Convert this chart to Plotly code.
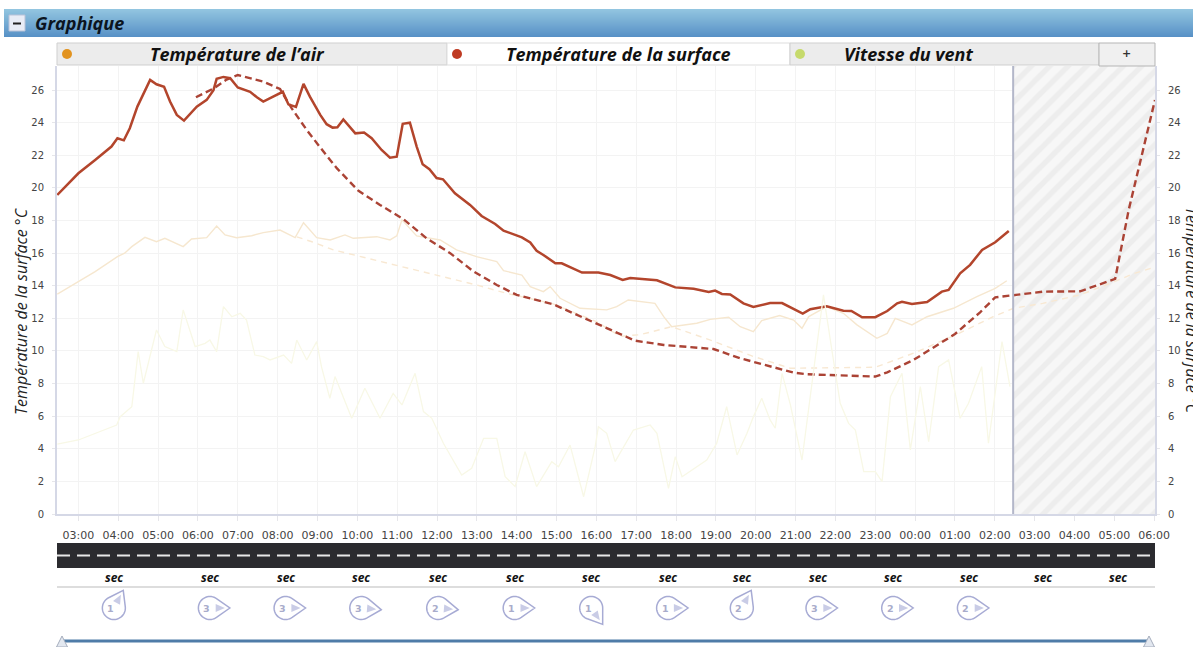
import math
import plotly.graph_objects as go

W, H = 1193, 647
PL, PR, PT, PB = 57, 1155, 66, 514

hour_labels = ["03:00","04:00","05:00","06:00","07:00","08:00","09:00","10:00","11:00","12:00","13:00","14:00","15:00","16:00",
               "17:00","18:00","19:00","20:00","21:00","22:00","23:00","00:00","01:00","02:00","03:00","04:00","05:00","06:00"]
temp_ticks = [0,2,4,6,8,10,12,14,16,18,20,22,24,26]

surface_h = [-.53,0,.42,.83,.98,1.14,1.29,1.48,1.80,1.96,2.15,2.3,2.47,2.65,2.97,3.22,3.39,3.47,3.64,3.81,4.0,4.31,4.48,4.64,4.85,5.13,5.27,5.46,5.65,5.81,6.07,6.23,6.38,6.5,6.65,6.95,7.17,7.36,7.61,7.82,7.99,8.14,8.32,8.49,8.64,8.81,8.99,9.15,9.45,9.83,10.12,10.46,10.67,11.13,11.34,11.5,11.67,11.97,12.13,12.64,13.05,13.35,13.66,13.85,14.52,14.98,15.44,15.82,15.98,16.15,16.36,16.69,16.94,17.36,17.66,18.18,18.37,18.78,19.2,19.4,19.67,20.0,20.3,20.55,20.67,20.92,21.3,21.67,21.84,22.13,22.38,22.68,23.01,23.35]
surface_t = [19.57,20.9,21.72,22.54,23.05,22.92,23.66,24.99,26.63,26.36,26.2,25.3,24.48,24.13,24.99,25.4,26.0,26.69,26.81,26.73,26.16,25.9,25.56,25.3,25.56,25.9,25.13,24.97,26.38,25.6,24.48,23.91,23.7,23.72,24.2,23.35,23.4,23.05,22.33,21.86,21.92,23.93,24.0,22.54,21.45,21.15,20.61,20.53,19.67,18.96,18.28,17.79,17.38,16.97,16.65,16.15,15.89,15.38,15.38,14.81,14.81,14.66,14.36,14.48,14.34,13.9,13.82,13.62,13.7,13.5,13.46,12.92,12.7,12.94,12.94,12.29,12.56,12.74,12.47,12.45,12.07,12.07,12.45,12.92,13.02,12.88,13.0,13.64,13.74,14.76,15.28,16.2,16.67,17.36]
surface_fc_h = [2.95,3.39,3.72,4.0,4.64,5.06,5.35,5.73,6.15,6.49,7.03,7.57,8.16,8.74,9.33,9.92,10.5,11.0,11.92,12.43,13.26,13.97,14.69,15.94,16.61,17.45,17.95,18.28,18.87,20.0,20.3,20.96,22.0,22.63,23.01,23.47,24.22,25.14,26.02,26.36,27.02]
surface_fc_t = [25.56,26.1,26.65,26.93,26.52,26.07,24.89,23.56,22.23,21.2,19.82,18.96,18.08,16.91,16.0,14.87,14.05,13.44,12.86,12.31,11.39,10.63,10.37,10.12,9.55,9.0,8.67,8.57,8.51,8.43,8.69,9.45,11.04,12.37,13.29,13.41,13.64,13.66,14.42,18.65,25.4]

air_h = [-.53,0,.42,.98,1.16,1.34,1.67,1.96,2.17,2.63,2.84,3.22,3.47,3.68,3.97,4.35,4.64,5.06,5.44,5.65,5.98,6.32,6.69,6.9,7.49,7.82,7.99,8.12,8.49,9.08,9.49,9.99,10.5,10.67,11.13,11.34,11.67,11.84,12.09,12.59,13.26,13.51,13.8,14.47,14.69,14.89,15.52,15.86,16.32,16.61,16.94,17.15,17.6,17.95,18.16,18.33,18.78,19.2,19.54,20.04,20.3,20.5,20.92,21.3,21.96,22.55,23.01,23.3]
air_t = [13.48,14.25,14.87,15.79,16.0,16.4,16.97,16.7,16.91,16.4,16.87,16.95,17.67,17.12,16.95,17.07,17.26,17.42,16.95,17.87,16.95,16.81,17.12,16.91,17.01,16.81,17.06,18.04,17.06,16.81,16.2,15.79,15.48,14.93,14.66,13.95,13.64,13.95,13.23,12.62,12.52,12.72,13.13,12.92,12.11,11.49,11.7,11.94,12.07,11.49,11.19,11.86,12.17,11.9,11.39,12.11,12.72,12.31,11.6,10.78,11.08,12.0,11.6,12.1,12.62,13.33,13.84,14.31]
air_fc_h = [5.48,5.86,6.4,6.82,7.99,8.99,9.99,10.74,11.9,13.0,13.6,14.1,14.89,15.86,16.9,17.87,19.0,20.0,21.0,22.1,22.96,23.47,24.2,25.14,26.0,26.5,27.02]
air_fc_t = [17.0,16.7,16.2,15.95,15.28,14.66,14.05,13.54,12.9,11.8,10.9,11.0,11.49,10.67,9.7,8.94,8.98,9.0,9.9,11.08,12.1,12.62,12.92,13.44,14.25,14.76,15.15]

wind_h = [-.53,0,.96,1.05,1.34,1.5,1.63,1.96,2.17,2.47,2.63,2.93,3.18,3.3,3.47,3.64,3.85,4.06,4.22,4.43,4.64,4.81,5.15,5.35,5.48,5.73,5.98,6.1,6.31,6.44,6.86,7.19,7.57,7.9,8.12,8.45,8.66,8.87,9.16,9.62,9.87,10.17,10.5,10.71,10.96,11.21,11.5,11.88,12.05,12.34,12.68,12.97,13.05,13.26,13.47,13.93,14.35,14.52,14.81,14.98,15.15,15.77,16.02,16.27,16.53,16.78,16.94,17.15,17.36,17.49,17.66,17.87,18.16,18.41,18.7,18.91,19.12,19.33,19.5,19.71,20.0,20.17,20.38,20.67,20.88,21.13,21.34,21.59,21.84,22.13,22.34,22.67,22.84,23.18,23.38]
wind_v = [4.29,4.54,5.46,5.97,6.58,9.96,8.02,11.29,10.27,9.96,12.52,10.27,10.47,10.67,9.96,12.72,12.1,12.31,11.9,9.75,9.65,9.45,9.75,9.24,10.67,9.45,10.57,9.04,7.1,8.43,5.87,7.71,5.87,7.4,6.69,8.63,6.28,5.87,4.34,2.39,2.8,4.64,4.64,2.29,1.68,3.82,1.68,3.21,2.9,4.23,1.06,4.13,5.36,4.95,3.21,5.15,5.46,4.95,1.57,3.52,2.29,3.31,4.34,6.58,3.62,4.95,5.97,7.1,5.77,5.26,8.63,6.69,3.31,8.02,13.44,10.06,6.79,5.56,5.15,2.6,2.6,1.98,7.2,8.63,3.93,7.81,4.44,9.04,9.45,5.87,6.79,9.04,4.34,10.57,7.81]

now_hour = 23.46
x_min, x_max = -0.537, 27.02
y_min, y_max = 0, 27.48

sec_hours = [.89,3.3,5.2,7.1,9.03,10.95,12.87,14.8,16.65,18.55,20.45,22.35,24.2,26.1]
sec_label = "sec"
drop_hours = [.89,3.3,5.2,7.1,9.03,10.95,12.87,14.8,16.65,18.55,20.45,22.35]
drop_force = ["1","3","3","3","2","1","1","1","2","3","2","2"]
drop_angle = [-62,0,0,5,5,0,55,0,-62,0,0,0]
tabs = ["Température de l’air","Température de la surface","Vitesse du vent"]
axis_title = "Température de la surface °C"

FONT = "DejaVu Sans"
TITLE = "Open Sans"
def fx(p): return p / W
def fy(p): return 1 - p / H
def h2px(h): return PL + (h - x_min) / (x_max - x_min) * (PR - PL)

fig = go.Figure()
fig.add_trace(go.Bar(x=[(now_hour + x_max) / 2], y=[y_max], width=[x_max - now_hour], hoverinfo="skip", showlegend=False,
                     marker=dict(color="#f7f7f7", line_width=0,
                                 pattern=dict(shape="/", fgcolor="#e3e3e3", bgcolor="#f7f7f7", size=13, solidity=0.42))))
def line(x, y, color, width, dash="solid", axis="y"):
    fig.add_trace(go.Scatter(x=x, y=y, mode="lines", yaxis=axis, showlegend=False, hoverinfo="skip",
                             line=dict(color=color, width=width, dash=dash)))
line(wind_h, wind_v, "#f8f8e6", 1.3, axis="y2")
line(air_fc_h, air_fc_t, "#f8e8d2", 1.4, "6px,5px")
line(air_h, air_t, "#f6e7cf", 1.4)
line(surface_fc_h, surface_fc_t, "#ab4335", 2.4, "7px,4px")
line(surface_h, surface_t, "#b3452c", 2.5)

shapes, annos = [], []
def rect(x0, y0, x1, y1, fill, lc=None, lw=1):
    shapes.append(dict(type="rect", xref="paper", yref="paper", x0=fx(x0), x1=fx(x1), y0=fy(y0), y1=fy(y1),
                       fillcolor=fill, line=dict(color=lc or fill, width=lw if lc else 0)))
def text(x, y, s, size, color="#111", font=FONT, bold=False, italic=False, anchor="center", angle=0):
    annos.append(dict(xref="paper", yref="paper", x=fx(x), y=fy(y), text=s, showarrow=False, xanchor=anchor, yanchor="middle",
                      textangle=angle, font=dict(family=font, size=size, color=color, weight="bold" if bold else "normal",
                                                 style="italic" if italic else "normal")))

# header band, graded from light to deep blue
top, bot = (146, 197, 224), (88, 145, 198)
for i in range(28):
    t = i / 27
    c = "rgb(%d,%d,%d)" % tuple(round(a + (b - a) * t) for a, b in zip(top, bot))
    rect(4, 9 + i, W, 10 + i, c)
rect(9, 15, 25, 31, "#e8ecf6", "#b8c2d8", 1)
rect(13, 22.5, 21, 24.5, "#222")
text(33, 23, "Graphique", 18, "#0b1420", TITLE, True, True, "left")

# tabs
rect(57, 43, 447, 65, "#ececec", "#cfcfcf", 1)
rect(447, 43, 790, 65, "#ffffff", "#dddddd", 1)
rect(790, 43, 1099, 65, "#ececec", "#cfcfcf", 1)
rect(1099, 43, 1155, 66, "#f0f0f0", "#b5b5b5", 1)
for cx, col in [(67, "#e2931f"), (457, "#bf3b23"), (800, "#c6da6c")]:
    shapes.append(dict(type="circle", xref="paper", yref="paper", x0=fx(cx - 5), x1=fx(cx + 5), y0=fy(59), y1=fy(49),
                       fillcolor=col, line_width=0))
for cx, s in zip([237, 618, 908], tabs):
    text(cx, 54, s, 18, "#111", TITLE, True, True)
text(1126, 53, "+", 11, "#333", FONT, True)

# axis titles
text(21, 311, axis_title, 16, "#222", TITLE, False, True, angle=-90)
text(1192, 311, axis_title, 16, "#222", TITLE, False, True, angle=90)

# road
rect(57, 543, 1155, 568, "#2b2b2f")
shapes.append(dict(type="line", xref="paper", yref="paper", x0=fx(57), x1=fx(1155), y0=fy(555.5), y1=fy(555.5),
                   line=dict(color="#e8e8e8", width=2, dash="13px,7px")))
shapes.append(dict(type="line", xref="paper", yref="paper", x0=fx(57), x1=fx(1155), y0=fy(587), y1=fy(587),
                   line=dict(color="#d2d2d2", width=1.5)))
for h in sec_hours:
    annos.append(dict(xref="x", yref="paper", x=h, y=fy(577), text=sec_label, showarrow=False, yanchor="middle",
                      font=dict(family=TITLE, size=12, color="#111", weight="bold", style="italic")))

# wind droplets
DC = "#a7abd4"
for h, f, a in zip(drop_hours, drop_force, drop_angle):
    cx, cy, r, tip = h2px(h), 608, 11.5, 20
    ang = math.radians(a)
    off = math.acos(r / tip)
    t = (cx + tip * math.cos(ang), cy + tip * math.sin(ang))
    n1 = (cx + 7 * math.cos(ang - .6), cy + 7 * math.sin(ang - .6))
    n2 = (cx + 7 * math.cos(ang + .6), cy + 7 * math.sin(ang + .6))
    steps = []
    for k in range(37):
        th = ang + off + (2 * math.pi - 2 * off) * k / 36
        steps.append(f"{fx(cx + r * math.cos(th))} {fy(cy + r * math.sin(th))}")
    path = f"M {fx(t[0])} {fy(t[1])} L " + " L ".join(steps) + " Z"
    shapes.append(dict(type="path", xref="paper", yref="paper", path=path, line=dict(color=DC, width=1.5), fillcolor="rgba(255,255,255,0)"))
    inner = f"M {fx(n1[0])} {fy(n1[1])} L {fx(cx + 15 * math.cos(ang))} {fy(cy + 15 * math.sin(ang))} L {fx(n2[0])} {fy(n2[1])} Z"
    shapes.append(dict(type="path", xref="paper", yref="paper", path=inner, line_width=0, fillcolor="#c9cce6"))
    text(cx - 3, cy, f, 9.5, "#a9accb", FONT, True)

# range slider bar
shapes.append(dict(type="line", xref="paper", yref="paper", x0=fx(62), x1=fx(1149), y0=fy(641), y1=fy(641),
                   line=dict(color="#4f7ca8", width=3)))
for cx in (62, 1149):
    path = f"M {fx(cx - 5.5)} {fy(647)} L {fx(cx)} {fy(636)} L {fx(cx + 5.5)} {fy(647)} Z"
    shapes.append(dict(type="path", xref="paper", yref="paper", path=path, fillcolor="#e3e8f0", line=dict(color="#a5adbd", width=1)))
# now marker
shapes.append(dict(type="line", xref="x", yref="y", x0=now_hour, x1=now_hour, y0=y_min, y1=y_max, line=dict(color="#b3b7c9", width=2)))

tick_font = dict(family=FONT, size=10, color="#444")
fig.update_layout(
    width=W, height=H, autosize=False, margin=dict(l=0, r=0, t=0, b=0, autoexpand=False), paper_bgcolor="white", plot_bgcolor="white",
    showlegend=False, shapes=shapes, annotations=annos, bargap=0,
    xaxis=dict(domain=[fx(PL), fx(PR)], range=[x_min, x_max], tickmode="array", tickvals=list(range(len(hour_labels))), ticktext=hour_labels,
               tickangle=0, showgrid=True, gridcolor="#f3f3f3", gridwidth=1.2, zeroline=False, showline=True, linecolor="#d5d8e6", linewidth=2,
               ticks="outside", ticklen=5, tickcolor="#e6e6ea", tickfont=dict(family=FONT, size=11, color="#444"), ticklabelstandoff=5),
    yaxis=dict(domain=[fy(PB), fy(PT)], range=[y_min, y_max], tickmode="array", tickvals=temp_ticks, showgrid=True, gridcolor="#f3f3f3", gridwidth=1.2,
               zeroline=False, showline=True, linecolor="#d5d8e6", linewidth=2, ticks="outside", ticklen=3, tickcolor="#e6e6ea",
               tickfont=tick_font, ticklabelstandoff=6),
    yaxis2=dict(domain=[fy(PB), fy(PT)], range=[y_min, y_max], overlaying="y", side="right", tickmode="array", tickvals=temp_ticks, showgrid=False,
                zeroline=False, showline=True, linecolor="#d5d8e6", linewidth=2, ticks="outside", ticklen=3, tickcolor="#e6e6ea",
                tickfont=tick_font, ticklabelstandoff=6),
)
fig.write_html("out.html", config={"responsive": False, "displayModeBar": False}, default_width="1193px", default_height="647px",
               post_script="document.body.style.margin='0';document.body.style.overflow='hidden';")
